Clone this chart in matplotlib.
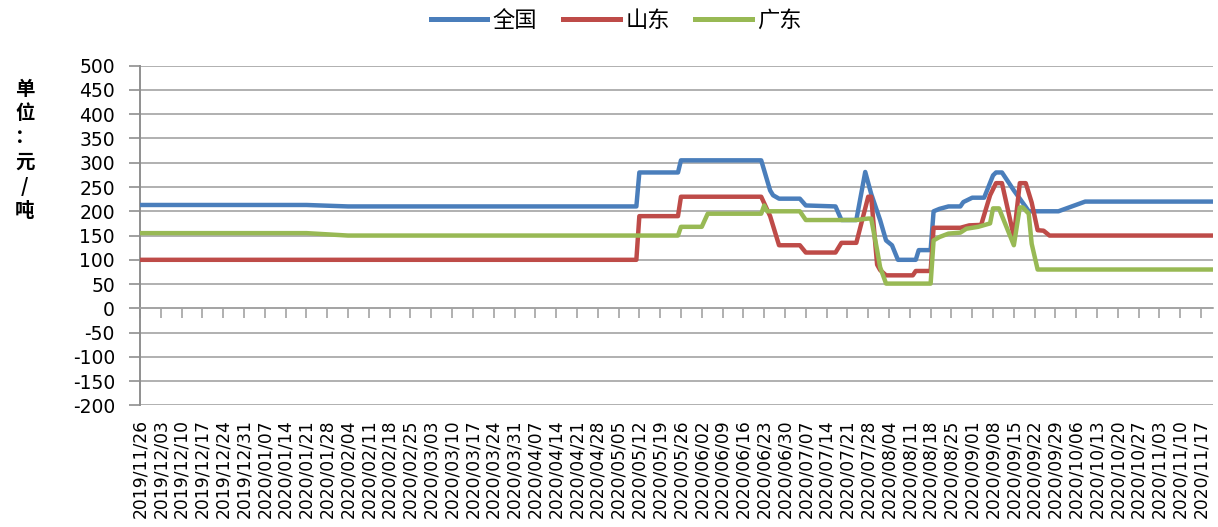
import matplotlib
matplotlib.use('Agg')
import matplotlib.pyplot as plt
from matplotlib.lines import Line2D
import pandas as pd
import numpy as np

plt.rcParams['font.family'] = ['DejaVu Sans', 'Noto Sans CJK SC']
plt.rcParams['axes.unicode_minus'] = False

# ---------------- data ----------------
series_names = ["全国", "山东", "广东"]

national_dates = ["2019-11-26", "2020-01-21", "2020-02-04", "2020-05-11", "2020-05-12", "2020-05-25",
                  "2020-05-26", "2020-06-22", "2020-06-25", "2020-06-26", "2020-06-28", "2020-07-05",
                  "2020-07-07", "2020-07-17", "2020-07-19", "2020-07-24", "2020-07-27", "2020-07-29",
                  "2020-08-01", "2020-08-03", "2020-08-05", "2020-08-07", "2020-08-13", "2020-08-14",
                  "2020-08-18", "2020-08-19", "2020-08-21", "2020-08-24", "2020-08-28", "2020-08-29",
                  "2020-09-01", "2020-09-05", "2020-09-08", "2020-09-09", "2020-09-11", "2020-09-15",
                  "2020-09-19", "2020-09-20", "2020-09-30", "2020-10-09", "2020-11-21"]
national_vals = [213, 213, 210, 210, 280, 280,
                 305, 305, 243, 233, 226, 226,
                 212, 210, 182, 182, 281, 236,
                 182, 140, 130, 100, 100, 120,
                 120, 200, 205, 210, 210, 219,
                 228, 228, 274, 280, 280, 243,
                 209, 200, 200, 220, 220]

shandong_dates = ["2019-11-26", "2020-05-11", "2020-05-12", "2020-05-25", "2020-05-26", "2020-06-22",
                  "2020-06-25", "2020-06-28", "2020-07-05", "2020-07-07", "2020-07-17", "2020-07-19",
                  "2020-07-24", "2020-07-28", "2020-07-29", "2020-07-31", "2020-08-01", "2020-08-03",
                  "2020-08-12", "2020-08-13", "2020-08-18", "2020-08-19", "2020-08-28", "2020-08-31",
                  "2020-09-04", "2020-09-07", "2020-09-09", "2020-09-11", "2020-09-15", "2020-09-17",
                  "2020-09-19", "2020-09-21", "2020-09-23", "2020-09-25", "2020-09-27", "2020-11-21"]
shandong_vals = [100, 100, 190, 190, 230, 230,
                 190, 130, 130, 115, 115, 135,
                 135, 230, 230, 90, 79, 68,
                 68, 77, 77, 166, 166, 171,
                 172, 233, 258, 258, 148, 258,
                 258, 218, 161, 160, 150, 150]

guangdong_dates = ["2019-11-26", "2020-01-21", "2020-02-04", "2020-05-25", "2020-05-26", "2020-06-02",
                   "2020-06-04", "2020-06-22", "2020-06-23", "2020-06-24", "2020-07-05", "2020-07-07",
                   "2020-07-24", "2020-07-28", "2020-07-29", "2020-07-31", "2020-08-01", "2020-08-03",
                   "2020-08-18", "2020-08-19", "2020-08-21", "2020-08-24", "2020-08-28", "2020-08-30",
                   "2020-09-03", "2020-09-07", "2020-09-08", "2020-09-10", "2020-09-15", "2020-09-17",
                   "2020-09-18", "2020-09-20", "2020-09-21", "2020-09-23", "2020-11-21"]
guangdong_vals = [155, 155, 150, 150, 168, 168,
                  195, 195, 212, 200, 200, 182,
                  182, 185, 185, 120, 85, 51,
                  51, 140, 147, 154, 156, 164,
                  168, 175, 206, 206, 130, 208,
                  208, 195, 133, 80, 80]

tick_start = "2019-11-26"
tick_end = "2020-11-17"
y_ticks = list(range(-200, 501, 50))
ylabel_text = "单位：元/吨"

colors = ["#4A7EBB", "#BE4B48", "#98B954"]

# ---------------- figure ----------------
fig = plt.figure(figsize=(12.18, 5.27), dpi=100)
ax = fig.add_axes([0.11494, 0.23074, 0.88095, 0.64459])

all_series = [(national_dates, national_vals), (shandong_dates, shandong_vals), (guangdong_dates, guangdong_vals)]
for (d, v), c, name in zip(all_series, colors, series_names):
    ax.plot(pd.to_datetime(d), v, color=c, lw=3.2, label=name,
            solid_joinstyle='round', solid_capstyle='butt', zorder=3)

x_min = pd.Timestamp(national_dates[0])
x_max = pd.Timestamp(national_dates[-1])
ax.set_xlim(x_min, x_max)
ax.set_ylim(-200, 500)
ax.set_yticks(y_ticks)

grid_c = '#a3a3a3'
ax.yaxis.grid(True, color=grid_c, lw=1.2)
ax.set_axisbelow(True)

for s in ['top', 'right']:
    ax.spines[s].set_visible(False)
ax.spines['left'].set_color('#8f8f8f')
ax.spines['left'].set_linewidth(1.4)
ax.spines['bottom'].set_position(('data', 0))
ax.spines['bottom'].set_color(grid_c)
ax.spines['bottom'].set_linewidth(1.2)

ax.tick_params(axis='y', direction='out', length=8, color='#8f8f8f', width=1.2,
               labelsize=13.5, pad=10, labelcolor='black')

ticks = pd.date_range(tick_start, tick_end, freq='7D')
ax.set_xticks(ticks)
ax.tick_params(axis='x', direction='out', length=7, color=grid_c, width=1.2, labelbottom=False)

sec = ax.secondary_xaxis('bottom')
sec.set_xticks(ticks)
sec.set_xticklabels([t.strftime('%Y/%m/%d') for t in ticks], rotation=90, fontsize=12.3)
sec.tick_params(length=0, pad=10)
sec.spines['bottom'].set_visible(False)

handles = [Line2D([], [], color=c, lw=3.6) for c in colors]
fig.legend(handles, series_names, loc='center', bbox_to_anchor=(0.506, 0.962), ncol=3,
           frameon=False, handlelength=2.55, handletextpad=0.25,
           columnspacing=1.15, prop={'family': ['Noto Sans CJK SC', 'DejaVu Sans'], 'size': 16})

fig.text(0.0205, 0.715, '\n'.join(ylabel_text), ha='center', va='center', fontsize=14,
         fontweight='bold', linespacing=1.36, family=['Noto Sans CJK SC', 'DejaVu Sans'])

fig.savefig('out.png', dpi=100)
